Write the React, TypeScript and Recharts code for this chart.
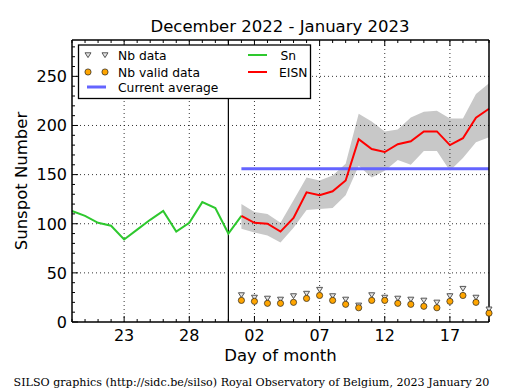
import React from 'react';
import { ComposedChart, Line, Area, XAxis, YAxis, ReferenceLine } from 'recharts';

// Day labels: Dec 19 2022 .. Jan 20 2023
const dayLabels = [
  '19', '20', '21', '22', '23', '24', '25', '26', '27', '28', '29', '30', '31',
  '01', '02', '03', '04', '05', '06', '07', '08', '09', '10', '11', '12', '13',
  '14', '15', '16', '17', '18', '19', '20',
];

// Daily Sn, Dec 19 .. Jan 1
const sn = [113, 108, 101, 98, 84, 94, 104, 113, 92, 101, 122, 116, 90, 108];

// EISN (Jan 1 .. Jan 20) with its error band
const eisn = [108, 101, 100, 92, 106, 132, 129, 133, 144, 186, 176, 173, 181, 184, 194, 194, 180, 187, 208, 217];
const eisnHigh = [120, 112, 110, 101, 124, 147, 144, 149, 161, 212, 204, 194, 196, 208, 214, 215, 207, 207, 232, 243];
const eisnLow = [95, 91, 88, 81, 96, 114, 115, 116, 129, 159, 147, 154, 165, 160, 174, 174, 154, 167, 183, 188];

// Number of stations (Jan 1 .. Jan 20)
const nbData = [27.5, 25, 24, 23, 26.5, 29, 33, 26.5, 23, 17, 27.5, 25, 24, 23, 22, 20, 26.5, 34, 25, 13];
const nbValid = [22, 21, 19, 19, 20, 24, 27, 22, 18, 14.5, 22, 22, 19, 18, 16, 14.5, 21, 27, 20, 9];

const currentAverage = 156;

const xMajor = [4, 9, 14, 19, 24, 29];
const xTicks = dayLabels.map((_, i) => i);
const yTicks = Array.from({ length: 29 }, (_, i) => i * 10);
const yMajor = [0, 50, 100, 150, 200, 250];
const yGrid = [50, 100, 150, 200, 250];
const monthBoundary = 12; // Dec 31
const janStart = 13;

const data = dayLabels.map((label, i) => {
  const j = i - janStart;
  const inJan = j >= 0 && j < eisn.length;
  return {
    x: i,
    label,
    sn: i < sn.length ? sn[i] : null,
    eisn: inJan ? eisn[j] : null,
    band: inJan ? [eisnLow[j], eisnHigh[j]] : null,
    avg: inJan ? currentAverage : null,
    nbData: inJan ? nbData[j] : null,
    nbValid: inJan ? nbValid[j] : null,
  };
});

const SANS = 'DejaVu Sans';

const BottomTick = (p: any) => {
  const v = p.payload.value;
  const major = xMajor.includes(v);
  return (
    <g>
      <line x1={p.x} x2={p.x} y1={p.y} y2={p.y - (major ? 6 : 3)} stroke="#000" strokeWidth={1} />
      {major && (
        <text x={p.x} y={p.y + 19} textAnchor="middle" fontFamily={SANS} fontSize={16} fill="#000">
          {dayLabels[v]}
        </text>
      )}
    </g>
  );
};

const TopTick = (p: any) => {
  const major = xMajor.includes(p.payload.value);
  return <line x1={p.x} x2={p.x} y1={p.y} y2={p.y + (major ? 6 : 3)} stroke="#000" strokeWidth={1} />;
};

const LeftTick = (p: any) => {
  const v = p.payload.value;
  const major = yMajor.includes(v);
  return (
    <g>
      <line x1={p.x} x2={p.x + (major ? 6 : 3)} y1={p.y} y2={p.y} stroke="#000" strokeWidth={1} />
      {major && (
        <text x={p.x - 5} y={p.y + 5.8} textAnchor="end" fontFamily={SANS} fontSize={16} fill="#000">
          {v}
        </text>
      )}
    </g>
  );
};

const RightTick = (p: any) => {
  const major = yMajor.includes(p.payload.value);
  return <line x1={p.x} x2={p.x - (major ? 6 : 3)} y1={p.y} y2={p.y} stroke="#000" strokeWidth={1} />;
};

const Tri = ({ cx, cy }: { cx: number; cy: number }) => (
  <path
    d={`M${cx - 3},${cy - 2.2} L${cx + 3},${cy - 2.2} L${cx},${cy + 2.6} Z`}
    fill="#e4e4e4"
    stroke="#555"
    strokeWidth={1}
  />
);

const Dot = ({ cx, cy }: { cx: number; cy: number }) => (
  <circle cx={cx} cy={cy} r={3.1} fill="#ffa500" stroke="#222" strokeWidth={0.7} />
);

const triDot = (p: any) => {
  if (p.cy == null || p.value == null || (Array.isArray(p.value) && p.value[1] == null)) return <g key={`t${p.index}`} />;
  return <g key={`t${p.index}`}><Tri cx={p.cx} cy={p.cy} /></g>;
};
const validDot = (p: any) => {
  if (p.cy == null || p.value == null || (Array.isArray(p.value) && p.value[1] == null)) return <g key={`v${p.index}`} />;
  return <g key={`v${p.index}`}><Dot cx={p.cx} cy={p.cy} /></g>;
};

const axisLine = { stroke: '#000', strokeWidth: 1.5 };

export default function App() {
  return (
    <div style={{ position: 'absolute', left: 0, top: 0, width: 515, height: 390, background: '#fff' }}>
      <ComposedChart width={515} height={390} data={data} margin={{ top: 39, right: 25, bottom: 0, left: 0 }}>
        <XAxis
          xAxisId="b"
          dataKey="x"
          type="number"
          domain={[0, 32]}
          ticks={xTicks}
          interval={0}
          tickSize={0}
          tickMargin={0}
          tickLine={false}
          axisLine={axisLine}
          tick={(p: any) => <BottomTick {...p} />}
          height={68}
        />
        <XAxis
          xAxisId="t"
          orientation="top"
          dataKey="x"
          type="number"
          domain={[0, 32]}
          ticks={xTicks}
          interval={0}
          tickSize={0}
          tickMargin={0}
          tickLine={false}
          axisLine={axisLine}
          tick={(p: any) => <TopTick {...p} />}
          height={1}
        />
        <YAxis
          yAxisId="l"
          type="number"
          domain={[0, 287]}
          ticks={yTicks}
          interval={0}
          tickSize={0}
          tickMargin={0}
          tickLine={false}
          axisLine={axisLine}
          tick={(p: any) => <LeftTick {...p} />}
          width={72}
        />
        <YAxis
          yAxisId="r"
          orientation="right"
          type="number"
          domain={[0, 287]}
          ticks={yTicks}
          interval={0}
          tickSize={0}
          tickMargin={0}
          tickLine={false}
          axisLine={axisLine}
          tick={(p: any) => <RightTick {...p} />}
          width={1}
        />
        {yGrid.map((v) => (
          <ReferenceLine key={`gy${v}`} xAxisId="b" yAxisId="l" y={v} stroke="#000" strokeWidth={0.8} strokeDasharray="1 3" />
        ))}
        {xMajor.map((v) => (
          <ReferenceLine key={`gx${v}`} xAxisId="b" yAxisId="l" x={v} stroke="#000" strokeWidth={0.8} strokeDasharray="1 3" />
        ))}
        <Area
          xAxisId="b"
          yAxisId="l"
          dataKey="band"
          stroke="none"
          fill="#c8c8c8"
          fillOpacity={1}
          isAnimationActive={false}
          activeDot={false}
          dot={false}
        />
        <ReferenceLine xAxisId="b" yAxisId="l" x={monthBoundary} stroke="#000" strokeWidth={1.2} />
        <Line xAxisId="b" yAxisId="l" dataKey="sn" stroke="#2ec82e" strokeWidth={2} dot={false} activeDot={false} isAnimationActive={false} />
        <Line xAxisId="b" yAxisId="l" dataKey="avg" stroke="#6464ff" strokeWidth={3} dot={false} activeDot={false} isAnimationActive={false} />
        <Line xAxisId="b" yAxisId="l" dataKey="eisn" stroke="#ff0000" strokeWidth={2} dot={false} activeDot={false} isAnimationActive={false} />
        <Line xAxisId="b" yAxisId="l" dataKey="nbData" stroke="none" dot={triDot} activeDot={false} isAnimationActive={false} />
        <Line xAxisId="b" yAxisId="l" dataKey="nbValid" stroke="none" dot={validDot} activeDot={false} isAnimationActive={false} />
      </ComposedChart>
      <svg width={515} height={390} style={{ position: 'absolute', left: 0, top: 0, pointerEvents: 'none' }}>
        <text x={280} y={32} textAnchor="middle" fontFamily={SANS} fontSize={16.5} fill="#000">
          December 2022 - January 2023
        </text>
        <text x={27} y={181} transform="rotate(-90 27 181)" textAnchor="middle" fontFamily={SANS} fontSize={16.5} fill="#000">
          Sunspot Number
        </text>
        <text x={280.5} y={361} textAnchor="middle" fontFamily={SANS} fontSize={16.5} fill="#000">
          Day of month
        </text>
        <text x={251.5} y={386} textAnchor="middle" fontFamily="DejaVu Serif" fontSize={11.1} fill="#000">
          SILSO graphics (http://sidc.be/silso) Royal Observatory of Belgium, 2023 January 20
        </text>
        <g>
          <rect x={78.5} y={45} width={232} height={53.5} fill="#fff" stroke="#000" strokeWidth={1.3} />
          <Tri cx={88} cy={55} />
          <Tri cx={105} cy={55} />
          <text x={118} y={59.5} fontFamily={SANS} fontSize={12.3} fill="#000">Nb data</text>
          <Dot cx={88} cy={72} />
          <Dot cx={105} cy={72} />
          <text x={118} y={76.5} fontFamily={SANS} fontSize={12.3} fill="#000">Nb valid data</text>
          <line x1={87} x2={106} y1={87} y2={87} stroke="#6464ff" strokeWidth={3} />
          <text x={118} y={91.5} fontFamily={SANS} fontSize={12.3} fill="#000">Current average</text>
          <line x1={248} x2={267} y1={55} y2={55} stroke="#2ec82e" strokeWidth={2} />
          <text x={280.5} y={59.5} fontFamily={SANS} fontSize={12.3} fill="#000">Sn</text>
          <line x1={248} x2={267} y1={72} y2={72} stroke="#ff0000" strokeWidth={2} />
          <text x={279} y={76.5} fontFamily={SANS} fontSize={12.3} fill="#000">EISN</text>
        </g>
      </svg>
    </div>
  );
}
